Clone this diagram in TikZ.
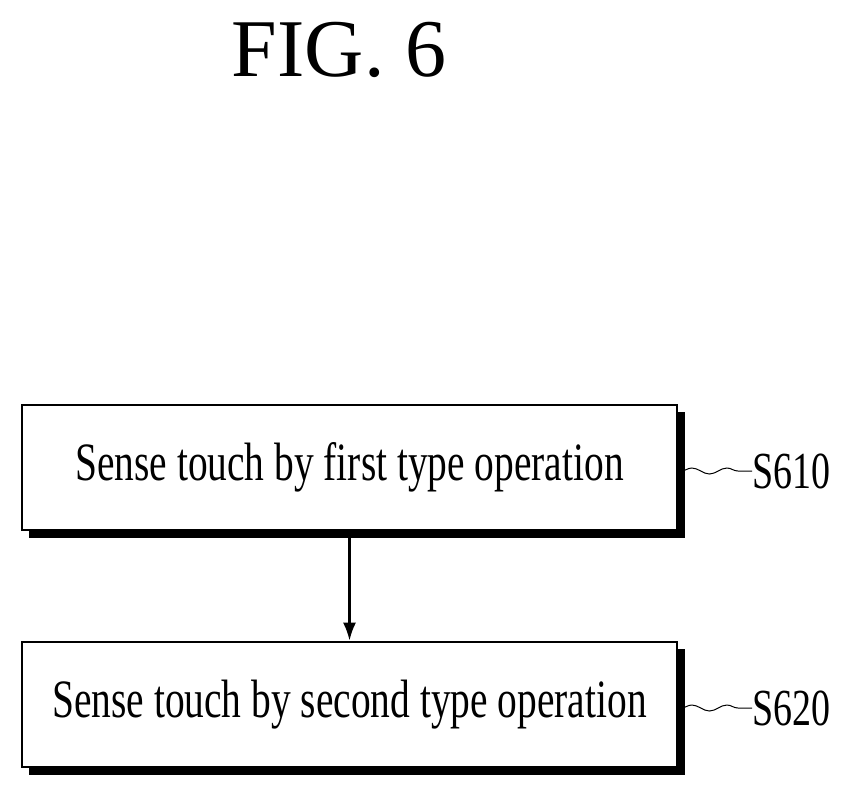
\documentclass[tikz,border=0pt]{standalone}
\usepackage{fontspec}
\setmainfont{Liberation Serif}
\newfontfamily\cond[FakeStretch=0.73]{Liberation Serif}
\usetikzlibrary{decorations.pathmorphing,arrows.meta}

\begin{document}
\begin{tikzpicture}[x=1pt,y=-1pt]
		\tikzset{stepbox/.style={draw,line width=2.6pt,fill=white,minimum width=655pt,minimum height=125pt,inner sep=0pt,
			font=\cond\fontsize{54}{54}\selectfont},
			shadow/.style={fill=black},
			tag/.style={font=\cond\fontsize{52}{52}\selectfont,anchor=west,inner sep=0pt},
			wave/.style={line width=1pt,decorate,decoration={snake,amplitude=3pt,segment length=35pt}}}
		\useasboundingbox (0,0) rectangle (850,800);
		\node[font=\fontsize{82}{82}\selectfont] (title) at (339,50) {FIG. 6};
		% boxes with shadow
		\fill[shadow] (29,412) rectangle (685,538);
		\node[stepbox] (s610) at (349.5,467.5) {Sense touch by first type operation};
		\fill[shadow] (29,649) rectangle (685,775);
		\node[stepbox] (s620) at (349.5,704.5) {Sense touch by second type operation};
		\node[tag] (l610) at (752,471) {S610};
		\node[tag] (l620) at (752,708) {S620};
		\draw[wave] (681,471) -- (l610.west);
		\draw[wave] (681,708) -- (l620.west);
		\draw[line width=2.6pt,-{Latex[length=18pt,width=13pt]}] (s610) -- (s620);
	\end{tikzpicture}
\end{document}
